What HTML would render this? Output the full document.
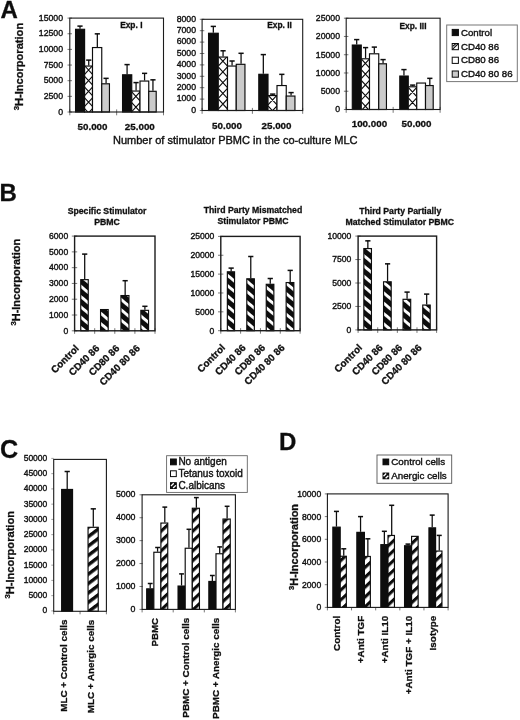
<!DOCTYPE html>
<html lang="en"><head><meta charset="utf-8"><title>Figure</title>
<style>html,body{margin:0;padding:0;background:#fff;}svg{display:block;}text{font-family:'Liberation Sans', Arial, Helvetica, sans-serif;}</style></head><body>
<svg width="520" height="720" viewBox="0 0 520 720">
<defs>
<pattern id="pbs" width="7.9" height="7.9" patternUnits="userSpaceOnUse" patternTransform="rotate(40)"><rect width="7.9" height="7.9" fill="#0a0a0a"/><rect width="7.9" height="2.9" fill="#fff"/></pattern>
<pattern id="pfs" width="7.5" height="7.5" patternUnits="userSpaceOnUse" patternTransform="rotate(-37)"><rect width="7.5" height="7.5" fill="#fff"/><rect width="7.5" height="3.4" fill="#0a0a0a"/></pattern>
<pattern id="pfsd" width="7.2" height="7.2" patternUnits="userSpaceOnUse" patternTransform="rotate(-43)"><rect width="7.2" height="7.2" fill="#fff"/><rect width="7.2" height="3.1" fill="#0a0a0a"/></pattern>
<filter id="soft" x="0" y="0" width="520" height="720" filterUnits="userSpaceOnUse"><feGaussianBlur stdDeviation="0.42"/></filter>
</defs>
<rect width="520" height="720" fill="#fff"/>
<g filter="url(#soft)">
<rect width="520" height="720" fill="#fff"/>
<text x="0.5" y="18.2" font-size="24" font-weight="bold" stroke="#111" stroke-width="0.3" text-anchor="start" fill="#111">A</text>
<text x="-0.4" y="200.5" font-size="24" font-weight="bold" stroke="#111" stroke-width="0.3" text-anchor="start" fill="#111">B</text>
<text x="0.1" y="457.7" font-size="25.2" font-weight="bold" stroke="#111" stroke-width="0.3" text-anchor="start" fill="#111">C</text>
<text x="279" y="450.2" font-size="24" font-weight="bold" stroke="#111" stroke-width="0.3" text-anchor="start" fill="#111">D</text>
<text x="23.1" y="66.6" font-size="11.1" font-weight="bold" stroke="#111" stroke-width="0.3" text-anchor="middle" transform="rotate(-90 23.1 66.6)" fill="#111"><tspan font-size="7.77" dy="-4.22">3</tspan><tspan dy="4.22">H-Incorporation</tspan></text>
<line x1="67.5" y1="18.1" x2="72" y2="18.1" stroke="#555" stroke-width="0.8"/>
<text x="63" y="20.83" font-size="8.7" stroke="#111" stroke-width="0.38" text-anchor="end" fill="#111">15000</text>
<line x1="67.5" y1="33.75" x2="72" y2="33.75" stroke="#555" stroke-width="0.8"/>
<text x="63" y="36.48" font-size="8.7" stroke="#111" stroke-width="0.38" text-anchor="end" fill="#111">12500</text>
<line x1="67.5" y1="49.4" x2="72" y2="49.4" stroke="#555" stroke-width="0.8"/>
<text x="63" y="52.13" font-size="8.7" stroke="#111" stroke-width="0.38" text-anchor="end" fill="#111">10000</text>
<line x1="67.5" y1="65.05" x2="72" y2="65.05" stroke="#555" stroke-width="0.8"/>
<text x="63" y="67.78" font-size="8.7" stroke="#111" stroke-width="0.38" text-anchor="end" fill="#111">7500</text>
<line x1="67.5" y1="80.7" x2="72" y2="80.7" stroke="#555" stroke-width="0.8"/>
<text x="63" y="83.43" font-size="8.7" stroke="#111" stroke-width="0.38" text-anchor="end" fill="#111">5000</text>
<line x1="67.5" y1="96.35" x2="72" y2="96.35" stroke="#555" stroke-width="0.8"/>
<text x="63" y="99.08" font-size="8.7" stroke="#111" stroke-width="0.38" text-anchor="end" fill="#111">2500</text>
<line x1="67.5" y1="112" x2="72" y2="112" stroke="#555" stroke-width="0.8"/>
<text x="63" y="114.73" font-size="8.7" stroke="#111" stroke-width="0.38" text-anchor="end" fill="#111">0</text>
<line x1="69.8" y1="109.4" x2="69.8" y2="115.3" stroke="#555" stroke-width="0.8"/>
<line x1="116.65" y1="109.4" x2="116.65" y2="115.3" stroke="#555" stroke-width="0.8"/>
<line x1="163.5" y1="109.4" x2="163.5" y2="115.3" stroke="#555" stroke-width="0.8"/>
<rect x="75.55" y="29.3" width="9.05" height="82.7" fill="#0a0a0a" stroke="#0a0a0a" stroke-width="1.15"/>
<line x1="80" y1="26" x2="80" y2="28.75" stroke="#0a0a0a" stroke-width="1.25"/>
<line x1="77.4" y1="26.1" x2="82.6" y2="26.1" stroke="#0a0a0a" stroke-width="1.5"/>
<clipPath id="cb1"><rect x="84.6" y="66.05" width="7.9" height="45.95"/></clipPath>
<rect x="84.6" y="66.05" width="7.9" height="45.95" fill="#fff" stroke="#0a0a0a" stroke-width="1.15"/>
<path d="M84.6 65.73L92.5 74.27M84.6 74.27L92.5 65.73M84.6 76.43L92.5 84.97M84.6 84.97L92.5 76.43M84.6 87.13L92.5 95.67M84.6 95.67L92.5 87.13M84.6 97.83L92.5 106.37M84.6 106.37L92.5 97.83M84.6 108.53L92.5 117.07M84.6 117.07L92.5 108.53M84.6 119.23L92.5 127.77M84.6 127.77L92.5 119.23M84.6 44.33L92.5 52.87M84.6 52.87L92.5 44.33" stroke="#111" stroke-width="1.15" fill="none" clip-path="url(#cb1)"/>
<line x1="88.75" y1="60" x2="88.75" y2="65.5" stroke="#0a0a0a" stroke-width="1.25"/>
<line x1="86.15" y1="60.1" x2="91.35" y2="60.1" stroke="#0a0a0a" stroke-width="1.5"/>
<rect x="92.5" y="47.55" width="9.25" height="64.45" fill="#fff" stroke="#0a0a0a" stroke-width="1.15"/>
<line x1="97.33" y1="33.75" x2="97.33" y2="47" stroke="#0a0a0a" stroke-width="1.25"/>
<line x1="94.73" y1="33.85" x2="99.92" y2="33.85" stroke="#0a0a0a" stroke-width="1.5"/>
<rect x="101.75" y="83.8" width="7.7" height="28.2" fill="#cbcbcb" stroke="#0a0a0a" stroke-width="1.15"/>
<line x1="106.08" y1="78.25" x2="106.08" y2="83.25" stroke="#0a0a0a" stroke-width="1.25"/>
<line x1="103.48" y1="78.35" x2="108.67" y2="78.35" stroke="#0a0a0a" stroke-width="1.5"/>
<rect x="122.55" y="74.8" width="9.2" height="37.2" fill="#0a0a0a" stroke="#0a0a0a" stroke-width="1.15"/>
<line x1="127.08" y1="64.5" x2="127.08" y2="74.25" stroke="#0a0a0a" stroke-width="1.25"/>
<line x1="124.48" y1="64.6" x2="129.68" y2="64.6" stroke="#0a0a0a" stroke-width="1.5"/>
<clipPath id="cb2"><rect x="131.75" y="91.05" width="8.25" height="20.95"/></clipPath>
<rect x="131.75" y="91.05" width="8.25" height="20.95" fill="#fff" stroke="#0a0a0a" stroke-width="1.15"/>
<path d="M131.75 91.95L140 100.86M131.75 100.86L140 91.95M131.75 102.65L140 111.56M131.75 111.56L140 102.65M131.75 113.35L140 122.26M131.75 122.26L140 113.35M131.75 70.55L140 79.45M131.75 79.45L140 70.55" stroke="#111" stroke-width="1.15" fill="none" clip-path="url(#cb2)"/>
<line x1="136.07" y1="82.5" x2="136.07" y2="90.5" stroke="#0a0a0a" stroke-width="1.25"/>
<line x1="133.47" y1="82.6" x2="138.67" y2="82.6" stroke="#0a0a0a" stroke-width="1.5"/>
<rect x="140" y="81.05" width="8.75" height="30.95" fill="#fff" stroke="#0a0a0a" stroke-width="1.15"/>
<line x1="144.57" y1="73.25" x2="144.57" y2="80.5" stroke="#0a0a0a" stroke-width="1.25"/>
<line x1="141.97" y1="73.35" x2="147.17" y2="73.35" stroke="#0a0a0a" stroke-width="1.5"/>
<rect x="148.75" y="91.3" width="7.45" height="20.7" fill="#cbcbcb" stroke="#0a0a0a" stroke-width="1.15"/>
<line x1="152.95" y1="79.75" x2="152.95" y2="90.75" stroke="#0a0a0a" stroke-width="1.25"/>
<line x1="150.35" y1="79.85" x2="155.55" y2="79.85" stroke="#0a0a0a" stroke-width="1.5"/>
<rect x="69.8" y="18.1" width="93.7" height="93.9" fill="none" stroke="#1a1a1a" stroke-width="1.1"/>
<text x="131.3" y="27.8" font-size="8.4" font-weight="bold" stroke="#111" stroke-width="0.3" text-anchor="middle" fill="#111">Exp. I</text>
<text x="92.5" y="130.2" font-size="9.8" font-weight="bold" stroke="#111" stroke-width="0.3" text-anchor="middle" fill="#111">50.000</text>
<text x="139.8" y="130.2" font-size="9.8" font-weight="bold" stroke="#111" stroke-width="0.3" text-anchor="middle" fill="#111">25.000</text>
<line x1="199.8" y1="19.3" x2="204.3" y2="19.3" stroke="#555" stroke-width="0.8"/>
<text x="196" y="21.63" font-size="8.7" stroke="#111" stroke-width="0.38" text-anchor="end" fill="#111">8000</text>
<line x1="199.8" y1="30.7" x2="204.3" y2="30.7" stroke="#555" stroke-width="0.8"/>
<text x="196" y="33.03" font-size="8.7" stroke="#111" stroke-width="0.38" text-anchor="end" fill="#111">7000</text>
<line x1="199.8" y1="42.1" x2="204.3" y2="42.1" stroke="#555" stroke-width="0.8"/>
<text x="196" y="44.43" font-size="8.7" stroke="#111" stroke-width="0.38" text-anchor="end" fill="#111">6000</text>
<line x1="199.8" y1="53.5" x2="204.3" y2="53.5" stroke="#555" stroke-width="0.8"/>
<text x="196" y="55.83" font-size="8.7" stroke="#111" stroke-width="0.38" text-anchor="end" fill="#111">5000</text>
<line x1="199.8" y1="64.9" x2="204.3" y2="64.9" stroke="#555" stroke-width="0.8"/>
<text x="196" y="67.23" font-size="8.7" stroke="#111" stroke-width="0.38" text-anchor="end" fill="#111">4000</text>
<line x1="199.8" y1="76.3" x2="204.3" y2="76.3" stroke="#555" stroke-width="0.8"/>
<text x="196" y="78.63" font-size="8.7" stroke="#111" stroke-width="0.38" text-anchor="end" fill="#111">3000</text>
<line x1="199.8" y1="87.7" x2="204.3" y2="87.7" stroke="#555" stroke-width="0.8"/>
<text x="196" y="90.03" font-size="8.7" stroke="#111" stroke-width="0.38" text-anchor="end" fill="#111">2000</text>
<line x1="199.8" y1="99.1" x2="204.3" y2="99.1" stroke="#555" stroke-width="0.8"/>
<text x="196" y="101.43" font-size="8.7" stroke="#111" stroke-width="0.38" text-anchor="end" fill="#111">1000</text>
<line x1="199.8" y1="110.5" x2="204.3" y2="110.5" stroke="#555" stroke-width="0.8"/>
<text x="196" y="112.83" font-size="8.7" stroke="#111" stroke-width="0.38" text-anchor="end" fill="#111">0</text>
<line x1="202.1" y1="107.9" x2="202.1" y2="113.8" stroke="#555" stroke-width="0.8"/>
<line x1="252.4" y1="107.9" x2="252.4" y2="113.8" stroke="#555" stroke-width="0.8"/>
<line x1="302.7" y1="107.9" x2="302.7" y2="113.8" stroke="#555" stroke-width="0.8"/>
<rect x="208.55" y="33.25" width="9.7" height="77.25" fill="#0a0a0a" stroke="#0a0a0a" stroke-width="1.15"/>
<line x1="213.32" y1="26.3" x2="213.32" y2="32.7" stroke="#0a0a0a" stroke-width="1.25"/>
<line x1="210.72" y1="26.4" x2="215.92" y2="26.4" stroke="#0a0a0a" stroke-width="1.5"/>
<clipPath id="cb3"><rect x="218.25" y="57.05" width="9.25" height="53.45"/></clipPath>
<rect x="218.25" y="57.05" width="9.25" height="53.45" fill="#fff" stroke="#0a0a0a" stroke-width="1.15"/>
<path d="M218.25 56.21L227.5 66.2M218.25 66.2L227.5 56.21M218.25 66.91L227.5 76.9M218.25 76.9L227.5 66.91M218.25 77.61L227.5 87.6M218.25 87.6L227.5 77.61M218.25 88.31L227.5 98.3M218.25 98.3L227.5 88.31M218.25 99.01L227.5 109M218.25 109L227.5 99.01M218.25 109.71L227.5 119.7M218.25 119.7L227.5 109.71M218.25 120.41L227.5 130.4M218.25 130.4L227.5 120.41M218.25 34.8L227.5 44.79M218.25 44.79L227.5 34.8" stroke="#111" stroke-width="1.15" fill="none" clip-path="url(#cb3)"/>
<line x1="223.07" y1="50.7" x2="223.07" y2="56.5" stroke="#0a0a0a" stroke-width="1.25"/>
<line x1="220.47" y1="50.8" x2="225.67" y2="50.8" stroke="#0a0a0a" stroke-width="1.5"/>
<rect x="227.5" y="66.05" width="8.75" height="44.45" fill="#fff" stroke="#0a0a0a" stroke-width="1.15"/>
<line x1="232.07" y1="60.9" x2="232.07" y2="65.5" stroke="#0a0a0a" stroke-width="1.25"/>
<line x1="229.47" y1="61" x2="234.67" y2="61" stroke="#0a0a0a" stroke-width="1.5"/>
<rect x="236.25" y="64.3" width="8.7" height="46.2" fill="#cbcbcb" stroke="#0a0a0a" stroke-width="1.15"/>
<line x1="241.07" y1="53.2" x2="241.07" y2="63.75" stroke="#0a0a0a" stroke-width="1.25"/>
<line x1="238.47" y1="53.3" x2="243.67" y2="53.3" stroke="#0a0a0a" stroke-width="1.5"/>
<rect x="258.8" y="74.3" width="9.2" height="36.2" fill="#0a0a0a" stroke="#0a0a0a" stroke-width="1.15"/>
<line x1="263.32" y1="54.5" x2="263.32" y2="73.75" stroke="#0a0a0a" stroke-width="1.25"/>
<line x1="260.72" y1="54.6" x2="265.93" y2="54.6" stroke="#0a0a0a" stroke-width="1.5"/>
<clipPath id="cb4"><rect x="268" y="95.55" width="9" height="14.95"/></clipPath>
<rect x="268" y="95.55" width="9" height="14.95" fill="#fff" stroke="#0a0a0a" stroke-width="1.15"/>
<path d="M268 95.14L277 104.86M268 104.86L277 95.14M268 105.84L277 115.56M268 115.56L277 105.84M268 116.54L277 126.26M268 126.26L277 116.54M268 73.74L277 83.46M268 83.46L277 73.74" stroke="#111" stroke-width="1.15" fill="none" clip-path="url(#cb4)"/>
<line x1="272.7" y1="94" x2="272.7" y2="95" stroke="#0a0a0a" stroke-width="1.25"/>
<line x1="270.1" y1="94.1" x2="275.3" y2="94.1" stroke="#0a0a0a" stroke-width="1.5"/>
<rect x="277" y="85.55" width="9.25" height="24.95" fill="#fff" stroke="#0a0a0a" stroke-width="1.15"/>
<line x1="281.82" y1="74.25" x2="281.82" y2="85" stroke="#0a0a0a" stroke-width="1.25"/>
<line x1="279.22" y1="74.35" x2="284.43" y2="74.35" stroke="#0a0a0a" stroke-width="1.5"/>
<rect x="286.25" y="96.05" width="8.7" height="14.45" fill="#cbcbcb" stroke="#0a0a0a" stroke-width="1.15"/>
<line x1="291.07" y1="92.5" x2="291.07" y2="95.5" stroke="#0a0a0a" stroke-width="1.25"/>
<line x1="288.47" y1="92.6" x2="293.68" y2="92.6" stroke="#0a0a0a" stroke-width="1.5"/>
<rect x="202.1" y="19.3" width="100.6" height="91.2" fill="none" stroke="#1a1a1a" stroke-width="1.1"/>
<text x="279.5" y="28.2" font-size="8.4" font-weight="bold" stroke="#111" stroke-width="0.3" text-anchor="middle" fill="#111">Exp. II</text>
<text x="227" y="129" font-size="9.8" font-weight="bold" stroke="#111" stroke-width="0.3" text-anchor="middle" fill="#111">50.000</text>
<text x="276.5" y="128.8" font-size="9.8" font-weight="bold" stroke="#111" stroke-width="0.3" text-anchor="middle" fill="#111">25.000</text>
<line x1="343.9" y1="18.2" x2="348.4" y2="18.2" stroke="#555" stroke-width="0.8"/>
<text x="340" y="21.13" font-size="8.7" stroke="#111" stroke-width="0.38" text-anchor="end" fill="#111">25000</text>
<line x1="343.9" y1="36.46" x2="348.4" y2="36.46" stroke="#555" stroke-width="0.8"/>
<text x="340" y="39.39" font-size="8.7" stroke="#111" stroke-width="0.38" text-anchor="end" fill="#111">20000</text>
<line x1="343.9" y1="54.72" x2="348.4" y2="54.72" stroke="#555" stroke-width="0.8"/>
<text x="340" y="57.65" font-size="8.7" stroke="#111" stroke-width="0.38" text-anchor="end" fill="#111">15000</text>
<line x1="343.9" y1="72.98" x2="348.4" y2="72.98" stroke="#555" stroke-width="0.8"/>
<text x="340" y="75.91" font-size="8.7" stroke="#111" stroke-width="0.38" text-anchor="end" fill="#111">10000</text>
<line x1="343.9" y1="91.24" x2="348.4" y2="91.24" stroke="#555" stroke-width="0.8"/>
<text x="340" y="94.17" font-size="8.7" stroke="#111" stroke-width="0.38" text-anchor="end" fill="#111">5000</text>
<line x1="343.9" y1="109.5" x2="348.4" y2="109.5" stroke="#555" stroke-width="0.8"/>
<text x="340" y="112.43" font-size="8.7" stroke="#111" stroke-width="0.38" text-anchor="end" fill="#111">0</text>
<line x1="346.2" y1="106.9" x2="346.2" y2="112.8" stroke="#555" stroke-width="0.8"/>
<line x1="393.15" y1="106.9" x2="393.15" y2="112.8" stroke="#555" stroke-width="0.8"/>
<line x1="440.1" y1="106.9" x2="440.1" y2="112.8" stroke="#555" stroke-width="0.8"/>
<rect x="352.3" y="45.05" width="8.95" height="64.45" fill="#0a0a0a" stroke="#0a0a0a" stroke-width="1.15"/>
<line x1="356.7" y1="39.5" x2="356.7" y2="44.5" stroke="#0a0a0a" stroke-width="1.25"/>
<line x1="354.1" y1="39.6" x2="359.3" y2="39.6" stroke="#0a0a0a" stroke-width="1.5"/>
<clipPath id="cb5"><rect x="361.25" y="58.8" width="8.25" height="50.7"/></clipPath>
<rect x="361.25" y="58.8" width="8.25" height="50.7" fill="#fff" stroke="#0a0a0a" stroke-width="1.15"/>
<path d="M361.25 58.95L369.5 67.86M361.25 67.86L369.5 58.95M361.25 69.65L369.5 78.56M361.25 78.56L369.5 69.65M361.25 80.35L369.5 89.26M361.25 89.26L369.5 80.35M361.25 91.05L369.5 99.96M361.25 99.96L369.5 91.05M361.25 101.75L369.5 110.66M361.25 110.66L369.5 101.75M361.25 112.45L369.5 121.36M361.25 121.36L369.5 112.45M361.25 37.55L369.5 46.45M361.25 46.45L369.5 37.55" stroke="#111" stroke-width="1.15" fill="none" clip-path="url(#cb5)"/>
<line x1="365.57" y1="47.5" x2="365.57" y2="58.25" stroke="#0a0a0a" stroke-width="1.25"/>
<line x1="362.97" y1="47.6" x2="368.18" y2="47.6" stroke="#0a0a0a" stroke-width="1.5"/>
<rect x="369.5" y="53.8" width="9.25" height="55.7" fill="#fff" stroke="#0a0a0a" stroke-width="1.15"/>
<line x1="374.32" y1="47" x2="374.32" y2="53.25" stroke="#0a0a0a" stroke-width="1.25"/>
<line x1="371.72" y1="47.1" x2="376.93" y2="47.1" stroke="#0a0a0a" stroke-width="1.5"/>
<rect x="378.75" y="63.8" width="7.7" height="45.7" fill="#cbcbcb" stroke="#0a0a0a" stroke-width="1.15"/>
<line x1="383.07" y1="59.5" x2="383.07" y2="63.25" stroke="#0a0a0a" stroke-width="1.25"/>
<line x1="380.47" y1="59.6" x2="385.68" y2="59.6" stroke="#0a0a0a" stroke-width="1.5"/>
<rect x="399.8" y="76.05" width="8.45" height="33.45" fill="#0a0a0a" stroke="#0a0a0a" stroke-width="1.15"/>
<line x1="403.95" y1="69.5" x2="403.95" y2="75.5" stroke="#0a0a0a" stroke-width="1.25"/>
<line x1="401.35" y1="69.6" x2="406.55" y2="69.6" stroke="#0a0a0a" stroke-width="1.5"/>
<clipPath id="cb6"><rect x="408.25" y="86.8" width="8.5" height="22.7"/></clipPath>
<rect x="408.25" y="86.8" width="8.5" height="22.7" fill="#fff" stroke="#0a0a0a" stroke-width="1.15"/>
<path d="M408.25 87.31L416.75 96.49M408.25 96.49L416.75 87.31M408.25 98.01L416.75 107.19M408.25 107.19L416.75 98.01M408.25 108.71L416.75 117.89M408.25 117.89L416.75 108.71M408.25 119.41L416.75 128.59M408.25 128.59L416.75 119.41M408.25 65.91L416.75 75.09M408.25 75.09L416.75 65.91" stroke="#111" stroke-width="1.15" fill="none" clip-path="url(#cb6)"/>
<line x1="412.7" y1="85" x2="412.7" y2="86.25" stroke="#0a0a0a" stroke-width="1.25"/>
<line x1="410.1" y1="85.1" x2="415.3" y2="85.1" stroke="#0a0a0a" stroke-width="1.5"/>
<rect x="416.75" y="83.05" width="8.75" height="26.45" fill="#fff" stroke="#0a0a0a" stroke-width="1.15"/>
<rect x="425.5" y="85.55" width="7.7" height="23.95" fill="#cbcbcb" stroke="#0a0a0a" stroke-width="1.15"/>
<line x1="429.82" y1="78.25" x2="429.82" y2="85" stroke="#0a0a0a" stroke-width="1.25"/>
<line x1="427.22" y1="78.35" x2="432.43" y2="78.35" stroke="#0a0a0a" stroke-width="1.5"/>
<rect x="346.2" y="18.2" width="93.9" height="91.3" fill="none" stroke="#1a1a1a" stroke-width="1.1"/>
<text x="413" y="28.8" font-size="8.4" font-weight="bold" stroke="#111" stroke-width="0.3" text-anchor="middle" fill="#111">Exp. III</text>
<text x="369.4" y="126.5" font-size="9.8" font-weight="bold" stroke="#111" stroke-width="0.3" text-anchor="middle" fill="#111">100.000</text>
<text x="416.5" y="126.5" font-size="9.8" font-weight="bold" stroke="#111" stroke-width="0.3" text-anchor="middle" fill="#111">50.000</text>
<text x="113" y="143.6" font-size="11" stroke="#111" stroke-width="0.38" text-anchor="start" fill="#111">Number of stimulator PBMC in the co-culture MLC</text>
<rect x="446.7" y="25" width="70.6" height="56.6" fill="#fff" stroke="#777" stroke-width="1"/>
<rect x="452.2" y="29.4" width="6.2" height="6.2" fill="#0a0a0a" stroke="#0a0a0a" stroke-width="1"/>
<text x="460.9" y="35.5" font-size="9.7" stroke="#111" stroke-width="0.38" text-anchor="start" fill="#111">Control</text>
<rect x="452.2" y="43.5" width="6.2" height="6.2" fill="#fff" stroke="#0a0a0a" stroke-width="1"/>
<path d="M452.7 49.2L457.9 44M452.7 46.3L455.6 44" stroke="#111" stroke-width="1.1"/>
<text x="460.9" y="49.6" font-size="9.7" stroke="#111" stroke-width="0.38" text-anchor="start" fill="#111">CD40 86</text>
<rect x="452.2" y="57.2" width="6.2" height="6.2" fill="#fff" stroke="#0a0a0a" stroke-width="1"/>
<text x="460.9" y="63.3" font-size="9.7" stroke="#111" stroke-width="0.38" text-anchor="start" fill="#111">CD80 86</text>
<rect x="452.2" y="71" width="6.2" height="6.2" fill="#cbcbcb" stroke="#0a0a0a" stroke-width="1"/>
<text x="460.9" y="77.1" font-size="9.7" stroke="#111" stroke-width="0.38" text-anchor="start" fill="#111">CD40 80 86</text>
<text x="20.3" y="282.2" font-size="11" font-weight="bold" stroke="#111" stroke-width="0.3" text-anchor="middle" transform="rotate(-90 20.3 282.2)" fill="#111"><tspan font-size="7.7" dy="-4.18">3</tspan><tspan dy="4.18">H-Incorporation</tspan></text>
<line x1="71.8" y1="236.1" x2="77.2" y2="236.1" stroke="#555" stroke-width="0.8"/>
<text x="68.2" y="238.9" font-size="8.6" stroke="#111" stroke-width="0.38" text-anchor="end" fill="#111">6000</text>
<line x1="71.8" y1="251.88" x2="77.2" y2="251.88" stroke="#555" stroke-width="0.8"/>
<text x="68.2" y="254.68" font-size="8.6" stroke="#111" stroke-width="0.38" text-anchor="end" fill="#111">5000</text>
<line x1="71.8" y1="267.67" x2="77.2" y2="267.67" stroke="#555" stroke-width="0.8"/>
<text x="68.2" y="270.46" font-size="8.6" stroke="#111" stroke-width="0.38" text-anchor="end" fill="#111">4000</text>
<line x1="71.8" y1="283.45" x2="77.2" y2="283.45" stroke="#555" stroke-width="0.8"/>
<text x="68.2" y="286.25" font-size="8.6" stroke="#111" stroke-width="0.38" text-anchor="end" fill="#111">3000</text>
<line x1="71.8" y1="299.23" x2="77.2" y2="299.23" stroke="#555" stroke-width="0.8"/>
<text x="68.2" y="302.03" font-size="8.6" stroke="#111" stroke-width="0.38" text-anchor="end" fill="#111">2000</text>
<line x1="71.8" y1="315.02" x2="77.2" y2="315.02" stroke="#555" stroke-width="0.8"/>
<text x="68.2" y="317.81" font-size="8.6" stroke="#111" stroke-width="0.38" text-anchor="end" fill="#111">1000</text>
<line x1="71.8" y1="330.8" x2="77.2" y2="330.8" stroke="#555" stroke-width="0.8"/>
<text x="68.2" y="333.6" font-size="8.6" stroke="#111" stroke-width="0.38" text-anchor="end" fill="#111">0</text>
<line x1="74.6" y1="328.2" x2="74.6" y2="333.8" stroke="#555" stroke-width="0.8"/>
<line x1="94.7" y1="328.2" x2="94.7" y2="333.8" stroke="#555" stroke-width="0.8"/>
<line x1="114.8" y1="328.2" x2="114.8" y2="333.8" stroke="#555" stroke-width="0.8"/>
<line x1="134.9" y1="328.2" x2="134.9" y2="333.8" stroke="#555" stroke-width="0.8"/>
<line x1="155" y1="328.2" x2="155" y2="333.8" stroke="#555" stroke-width="0.8"/>
<rect x="80.75" y="279.65" width="7.5" height="51.15" fill="url(#pbs)" stroke="#0a0a0a" stroke-width="1.15"/>
<line x1="84.7" y1="254" x2="84.7" y2="279.1" stroke="#0a0a0a" stroke-width="1.25"/>
<line x1="82.1" y1="254.1" x2="87.3" y2="254.1" stroke="#0a0a0a" stroke-width="1.5"/>
<rect x="100.55" y="309.55" width="7.65" height="21.25" fill="url(#pbs)" stroke="#0a0a0a" stroke-width="1.15"/>
<rect x="120.95" y="295.55" width="8" height="35.25" fill="url(#pbs)" stroke="#0a0a0a" stroke-width="1.15"/>
<line x1="125.15" y1="280.6" x2="125.15" y2="295" stroke="#0a0a0a" stroke-width="1.25"/>
<line x1="122.55" y1="280.7" x2="127.75" y2="280.7" stroke="#0a0a0a" stroke-width="1.5"/>
<rect x="140.85" y="310.35" width="7.7" height="20.45" fill="url(#pbs)" stroke="#0a0a0a" stroke-width="1.15"/>
<line x1="144.9" y1="306.2" x2="144.9" y2="309.8" stroke="#0a0a0a" stroke-width="1.25"/>
<line x1="142.3" y1="306.3" x2="147.5" y2="306.3" stroke="#0a0a0a" stroke-width="1.5"/>
<rect x="74.6" y="236.1" width="80.4" height="94.7" fill="none" stroke="#1a1a1a" stroke-width="1.4"/>
<text x="79.55" y="349" font-size="9.8" font-weight="bold" stroke="#111" stroke-width="0.3" text-anchor="end" transform="rotate(-45 79.55 349)" fill="#111">Control</text>
<text x="100.05" y="349" font-size="9.8" font-weight="bold" stroke="#111" stroke-width="0.3" text-anchor="end" transform="rotate(-45 100.05 349)" fill="#111">CD40 86</text>
<text x="120.05" y="349" font-size="9.8" font-weight="bold" stroke="#111" stroke-width="0.3" text-anchor="end" transform="rotate(-45 120.05 349)" fill="#111">CD80 86</text>
<text x="140.5" y="349" font-size="9.8" font-weight="bold" stroke="#111" stroke-width="0.3" text-anchor="end" transform="rotate(-45 140.5 349)" fill="#111">CD40 80 86</text>
<text x="107" y="213.7" font-size="8.7" font-weight="bold" stroke="#111" stroke-width="0.3" text-anchor="middle" fill="#111">Specific Stimulator</text>
<text x="107" y="224.9" font-size="8.7" font-weight="bold" stroke="#111" stroke-width="0.3" text-anchor="middle" fill="#111">PBMC</text>
<line x1="218" y1="236.4" x2="223.4" y2="236.4" stroke="#555" stroke-width="0.8"/>
<text x="214.4" y="239.2" font-size="8.6" stroke="#111" stroke-width="0.38" text-anchor="end" fill="#111">25000</text>
<line x1="218" y1="255.26" x2="223.4" y2="255.26" stroke="#555" stroke-width="0.8"/>
<text x="214.4" y="258.06" font-size="8.6" stroke="#111" stroke-width="0.38" text-anchor="end" fill="#111">20000</text>
<line x1="218" y1="274.12" x2="223.4" y2="274.12" stroke="#555" stroke-width="0.8"/>
<text x="214.4" y="276.92" font-size="8.6" stroke="#111" stroke-width="0.38" text-anchor="end" fill="#111">15000</text>
<line x1="218" y1="292.98" x2="223.4" y2="292.98" stroke="#555" stroke-width="0.8"/>
<text x="214.4" y="295.78" font-size="8.6" stroke="#111" stroke-width="0.38" text-anchor="end" fill="#111">10000</text>
<line x1="218" y1="311.84" x2="223.4" y2="311.84" stroke="#555" stroke-width="0.8"/>
<text x="214.4" y="314.64" font-size="8.6" stroke="#111" stroke-width="0.38" text-anchor="end" fill="#111">5000</text>
<line x1="218" y1="330.7" x2="223.4" y2="330.7" stroke="#555" stroke-width="0.8"/>
<text x="214.4" y="333.5" font-size="8.6" stroke="#111" stroke-width="0.38" text-anchor="end" fill="#111">0</text>
<line x1="220.8" y1="328.1" x2="220.8" y2="333.7" stroke="#555" stroke-width="0.8"/>
<line x1="240.62" y1="328.1" x2="240.62" y2="333.7" stroke="#555" stroke-width="0.8"/>
<line x1="260.45" y1="328.1" x2="260.45" y2="333.7" stroke="#555" stroke-width="0.8"/>
<line x1="280.28" y1="328.1" x2="280.28" y2="333.7" stroke="#555" stroke-width="0.8"/>
<line x1="300.1" y1="328.1" x2="300.1" y2="333.7" stroke="#555" stroke-width="0.8"/>
<rect x="227.35" y="271.8" width="7.2" height="58.9" fill="url(#pbs)" stroke="#0a0a0a" stroke-width="1.15"/>
<line x1="231.15" y1="268" x2="231.15" y2="271.25" stroke="#0a0a0a" stroke-width="1.25"/>
<line x1="228.55" y1="268.1" x2="233.75" y2="268.1" stroke="#0a0a0a" stroke-width="1.5"/>
<rect x="246.8" y="278.8" width="7.55" height="51.9" fill="url(#pbs)" stroke="#0a0a0a" stroke-width="1.15"/>
<line x1="250.77" y1="256.4" x2="250.77" y2="278.25" stroke="#0a0a0a" stroke-width="1.25"/>
<line x1="248.17" y1="256.5" x2="253.37" y2="256.5" stroke="#0a0a0a" stroke-width="1.5"/>
<rect x="266.25" y="284.3" width="7.6" height="46.4" fill="url(#pbs)" stroke="#0a0a0a" stroke-width="1.15"/>
<line x1="270.25" y1="278.4" x2="270.25" y2="283.75" stroke="#0a0a0a" stroke-width="1.25"/>
<line x1="267.65" y1="278.5" x2="272.85" y2="278.5" stroke="#0a0a0a" stroke-width="1.5"/>
<rect x="286.15" y="282.55" width="7.7" height="48.15" fill="url(#pbs)" stroke="#0a0a0a" stroke-width="1.15"/>
<line x1="290.2" y1="270.3" x2="290.2" y2="282" stroke="#0a0a0a" stroke-width="1.25"/>
<line x1="287.6" y1="270.4" x2="292.8" y2="270.4" stroke="#0a0a0a" stroke-width="1.5"/>
<rect x="220.8" y="236.4" width="79.3" height="94.3" fill="none" stroke="#1a1a1a" stroke-width="1.4"/>
<text x="225.8" y="348.4" font-size="9.8" font-weight="bold" stroke="#111" stroke-width="0.3" text-anchor="end" transform="rotate(-45 225.8 348.4)" fill="#111">Control</text>
<text x="246.3" y="348.4" font-size="9.8" font-weight="bold" stroke="#111" stroke-width="0.3" text-anchor="end" transform="rotate(-45 246.3 348.4)" fill="#111">CD40 86</text>
<text x="265.8" y="348.4" font-size="9.8" font-weight="bold" stroke="#111" stroke-width="0.3" text-anchor="end" transform="rotate(-45 265.8 348.4)" fill="#111">CD80 86</text>
<text x="285.3" y="348.4" font-size="9.8" font-weight="bold" stroke="#111" stroke-width="0.3" text-anchor="end" transform="rotate(-45 285.3 348.4)" fill="#111">CD40 80 86</text>
<text x="253" y="212.8" font-size="8.7" font-weight="bold" stroke="#111" stroke-width="0.3" text-anchor="middle" fill="#111">Third Party Mismatched</text>
<text x="253" y="224" font-size="8.7" font-weight="bold" stroke="#111" stroke-width="0.3" text-anchor="middle" fill="#111">Stimulator PBMC</text>
<line x1="355.3" y1="236.1" x2="360.7" y2="236.1" stroke="#555" stroke-width="0.8"/>
<text x="351.4" y="238.9" font-size="8.6" stroke="#111" stroke-width="0.38" text-anchor="end" fill="#111">10000</text>
<line x1="355.3" y1="259.55" x2="360.7" y2="259.55" stroke="#555" stroke-width="0.8"/>
<text x="351.4" y="262.35" font-size="8.6" stroke="#111" stroke-width="0.38" text-anchor="end" fill="#111">7500</text>
<line x1="355.3" y1="283" x2="360.7" y2="283" stroke="#555" stroke-width="0.8"/>
<text x="351.4" y="285.8" font-size="8.6" stroke="#111" stroke-width="0.38" text-anchor="end" fill="#111">5000</text>
<line x1="355.3" y1="306.45" x2="360.7" y2="306.45" stroke="#555" stroke-width="0.8"/>
<text x="351.4" y="309.25" font-size="8.6" stroke="#111" stroke-width="0.38" text-anchor="end" fill="#111">2500</text>
<line x1="355.3" y1="329.9" x2="360.7" y2="329.9" stroke="#555" stroke-width="0.8"/>
<text x="351.4" y="332.7" font-size="8.6" stroke="#111" stroke-width="0.38" text-anchor="end" fill="#111">0</text>
<line x1="358.1" y1="327.3" x2="358.1" y2="332.9" stroke="#555" stroke-width="0.8"/>
<line x1="377.73" y1="327.3" x2="377.73" y2="332.9" stroke="#555" stroke-width="0.8"/>
<line x1="397.35" y1="327.3" x2="397.35" y2="332.9" stroke="#555" stroke-width="0.8"/>
<line x1="416.98" y1="327.3" x2="416.98" y2="332.9" stroke="#555" stroke-width="0.8"/>
<line x1="436.6" y1="327.3" x2="436.6" y2="332.9" stroke="#555" stroke-width="0.8"/>
<rect x="363.85" y="248.55" width="7.6" height="81.35" fill="url(#pbs)" stroke="#0a0a0a" stroke-width="1.15"/>
<line x1="367.85" y1="240.75" x2="367.85" y2="248" stroke="#0a0a0a" stroke-width="1.25"/>
<line x1="365.25" y1="240.85" x2="370.45" y2="240.85" stroke="#0a0a0a" stroke-width="1.5"/>
<rect x="383.55" y="281.8" width="7.65" height="48.1" fill="url(#pbs)" stroke="#0a0a0a" stroke-width="1.15"/>
<line x1="387.57" y1="263.75" x2="387.57" y2="281.25" stroke="#0a0a0a" stroke-width="1.25"/>
<line x1="384.97" y1="263.85" x2="390.18" y2="263.85" stroke="#0a0a0a" stroke-width="1.5"/>
<rect x="403.05" y="299.3" width="7.65" height="30.6" fill="url(#pbs)" stroke="#0a0a0a" stroke-width="1.15"/>
<line x1="407.07" y1="292" x2="407.07" y2="298.75" stroke="#0a0a0a" stroke-width="1.25"/>
<line x1="404.47" y1="292.1" x2="409.68" y2="292.1" stroke="#0a0a0a" stroke-width="1.5"/>
<rect x="422.75" y="305.05" width="7.45" height="24.85" fill="url(#pbs)" stroke="#0a0a0a" stroke-width="1.15"/>
<line x1="426.68" y1="294" x2="426.68" y2="304.5" stroke="#0a0a0a" stroke-width="1.25"/>
<line x1="424.07" y1="294.1" x2="429.28" y2="294.1" stroke="#0a0a0a" stroke-width="1.5"/>
<rect x="358.1" y="236.1" width="78.5" height="93.8" fill="none" stroke="#1a1a1a" stroke-width="1.4"/>
<text x="362.8" y="348.4" font-size="9.8" font-weight="bold" stroke="#111" stroke-width="0.3" text-anchor="end" transform="rotate(-45 362.8 348.4)" fill="#111">Control</text>
<text x="383.3" y="348.4" font-size="9.8" font-weight="bold" stroke="#111" stroke-width="0.3" text-anchor="end" transform="rotate(-45 383.3 348.4)" fill="#111">CD40 86</text>
<text x="402.8" y="348.4" font-size="9.8" font-weight="bold" stroke="#111" stroke-width="0.3" text-anchor="end" transform="rotate(-45 402.8 348.4)" fill="#111">CD80 86</text>
<text x="422.3" y="348.4" font-size="9.8" font-weight="bold" stroke="#111" stroke-width="0.3" text-anchor="end" transform="rotate(-45 422.3 348.4)" fill="#111">CD40 80 86</text>
<text x="400.2" y="213.7" font-size="8.7" font-weight="bold" stroke="#111" stroke-width="0.3" text-anchor="middle" fill="#111">Third Party Partially</text>
<text x="399.8" y="225.1" font-size="8.7" font-weight="bold" stroke="#111" stroke-width="0.3" text-anchor="middle" fill="#111">Matched Stimulator PBMC</text>
<text x="14.2" y="554.8" font-size="11.1" font-weight="bold" stroke="#111" stroke-width="0.3" text-anchor="middle" transform="rotate(-90 14.2 554.8)" fill="#111"><tspan font-size="7.77" dy="-4.22">3</tspan><tspan dy="4.22">H-Incorporation</tspan></text>
<line x1="51.3" y1="458.4" x2="53.7" y2="458.4" stroke="#888" stroke-width="0.8"/>
<text x="47.3" y="460.96" font-size="8.5" stroke="#111" stroke-width="0.38" text-anchor="end" fill="#111">50000</text>
<line x1="51.3" y1="473.65" x2="53.7" y2="473.65" stroke="#888" stroke-width="0.8"/>
<text x="47.3" y="476.21" font-size="8.5" stroke="#111" stroke-width="0.38" text-anchor="end" fill="#111">45000</text>
<line x1="51.3" y1="488.9" x2="53.7" y2="488.9" stroke="#888" stroke-width="0.8"/>
<text x="47.3" y="491.46" font-size="8.5" stroke="#111" stroke-width="0.38" text-anchor="end" fill="#111">40000</text>
<line x1="51.3" y1="504.15" x2="53.7" y2="504.15" stroke="#888" stroke-width="0.8"/>
<text x="47.3" y="506.71" font-size="8.5" stroke="#111" stroke-width="0.38" text-anchor="end" fill="#111">35000</text>
<line x1="51.3" y1="519.4" x2="53.7" y2="519.4" stroke="#888" stroke-width="0.8"/>
<text x="47.3" y="521.96" font-size="8.5" stroke="#111" stroke-width="0.38" text-anchor="end" fill="#111">30000</text>
<line x1="51.3" y1="534.65" x2="53.7" y2="534.65" stroke="#888" stroke-width="0.8"/>
<text x="47.3" y="537.21" font-size="8.5" stroke="#111" stroke-width="0.38" text-anchor="end" fill="#111">25000</text>
<line x1="51.3" y1="549.9" x2="53.7" y2="549.9" stroke="#888" stroke-width="0.8"/>
<text x="47.3" y="552.46" font-size="8.5" stroke="#111" stroke-width="0.38" text-anchor="end" fill="#111">20000</text>
<line x1="51.3" y1="565.15" x2="53.7" y2="565.15" stroke="#888" stroke-width="0.8"/>
<text x="47.3" y="567.71" font-size="8.5" stroke="#111" stroke-width="0.38" text-anchor="end" fill="#111">15000</text>
<line x1="51.3" y1="580.4" x2="53.7" y2="580.4" stroke="#888" stroke-width="0.8"/>
<text x="47.3" y="582.96" font-size="8.5" stroke="#111" stroke-width="0.38" text-anchor="end" fill="#111">10000</text>
<line x1="51.3" y1="595.65" x2="53.7" y2="595.65" stroke="#888" stroke-width="0.8"/>
<text x="47.3" y="598.21" font-size="8.5" stroke="#111" stroke-width="0.38" text-anchor="end" fill="#111">5000</text>
<line x1="51.3" y1="610.9" x2="53.7" y2="610.9" stroke="#888" stroke-width="0.8"/>
<text x="47.3" y="613.46" font-size="8.5" stroke="#111" stroke-width="0.38" text-anchor="end" fill="#111">0</text>
<line x1="53.7" y1="611.3" x2="53.7" y2="614.3" stroke="#555" stroke-width="0.8"/>
<line x1="80.05" y1="611.3" x2="80.05" y2="614.3" stroke="#555" stroke-width="0.8"/>
<line x1="106.4" y1="611.3" x2="106.4" y2="614.3" stroke="#555" stroke-width="0.8"/>
<rect x="61.65" y="489.45" width="10.9" height="121.85" fill="#0a0a0a" stroke="#0a0a0a" stroke-width="1.15"/>
<line x1="67.2" y1="471.4" x2="67.2" y2="489" stroke="#0a0a0a" stroke-width="1.25"/>
<line x1="64.6" y1="471.5" x2="69.8" y2="471.5" stroke="#0a0a0a" stroke-width="1.5"/>
<rect x="88.05" y="527.3" width="10.2" height="84" fill="url(#pfs)" stroke="#0a0a0a" stroke-width="1.15"/>
<line x1="93.3" y1="508.75" x2="93.3" y2="526.75" stroke="#0a0a0a" stroke-width="1.25"/>
<line x1="90.7" y1="508.85" x2="95.9" y2="508.85" stroke="#0a0a0a" stroke-width="1.5"/>
<rect x="53.7" y="459.4" width="52.7" height="151.9" fill="none" stroke="#1a1a1a" stroke-width="1.1"/>
<text x="66.9" y="619.6" font-size="9.85" font-weight="bold" stroke="#111" stroke-width="0.3" text-anchor="end" transform="rotate(-90 66.9 619.6)" fill="#111">MLC + Control cells</text>
<text x="93.7" y="619.8" font-size="9.85" font-weight="bold" stroke="#111" stroke-width="0.3" text-anchor="end" transform="rotate(-90 93.7 619.8)" fill="#111">MLC + Anergic cells</text>
<line x1="139.5" y1="494.8" x2="142.7" y2="494.8" stroke="#555" stroke-width="0.8"/>
<text x="135.5" y="497.37" font-size="8.8" stroke="#111" stroke-width="0.38" text-anchor="end" fill="#111">5000</text>
<line x1="139.5" y1="517.72" x2="142.7" y2="517.72" stroke="#555" stroke-width="0.8"/>
<text x="135.5" y="520.29" font-size="8.8" stroke="#111" stroke-width="0.38" text-anchor="end" fill="#111">4000</text>
<line x1="139.5" y1="540.64" x2="142.7" y2="540.64" stroke="#555" stroke-width="0.8"/>
<text x="135.5" y="543.21" font-size="8.8" stroke="#111" stroke-width="0.38" text-anchor="end" fill="#111">3000</text>
<line x1="139.5" y1="563.56" x2="142.7" y2="563.56" stroke="#555" stroke-width="0.8"/>
<text x="135.5" y="566.13" font-size="8.8" stroke="#111" stroke-width="0.38" text-anchor="end" fill="#111">2000</text>
<line x1="139.5" y1="586.48" x2="142.7" y2="586.48" stroke="#555" stroke-width="0.8"/>
<text x="135.5" y="589.05" font-size="8.8" stroke="#111" stroke-width="0.38" text-anchor="end" fill="#111">1000</text>
<line x1="139.5" y1="609.4" x2="142.7" y2="609.4" stroke="#555" stroke-width="0.8"/>
<text x="135.5" y="611.97" font-size="8.8" stroke="#111" stroke-width="0.38" text-anchor="end" fill="#111">0</text>
<line x1="142.1" y1="609.4" x2="142.1" y2="612.4" stroke="#555" stroke-width="0.8"/>
<line x1="173.2" y1="609.4" x2="173.2" y2="612.4" stroke="#555" stroke-width="0.8"/>
<line x1="204.3" y1="609.4" x2="204.3" y2="612.4" stroke="#555" stroke-width="0.8"/>
<line x1="235.4" y1="609.4" x2="235.4" y2="612.4" stroke="#555" stroke-width="0.8"/>
<rect x="146.7" y="588.85" width="7.15" height="20.55" fill="#0a0a0a" stroke="#0a0a0a" stroke-width="1.15"/>
<line x1="150.2" y1="583.4" x2="150.2" y2="588.3" stroke="#0a0a0a" stroke-width="1.25"/>
<line x1="147.8" y1="583.5" x2="152.6" y2="583.5" stroke="#0a0a0a" stroke-width="1.5"/>
<rect x="153.85" y="552.25" width="7.05" height="57.15" fill="#fff" stroke="#0a0a0a" stroke-width="1.15"/>
<line x1="157.57" y1="547.4" x2="157.57" y2="551.7" stroke="#0a0a0a" stroke-width="1.25"/>
<line x1="155.17" y1="547.5" x2="159.97" y2="547.5" stroke="#0a0a0a" stroke-width="1.5"/>
<rect x="160.9" y="523.05" width="6.85" height="86.35" fill="url(#pfsd)" stroke="#0a0a0a" stroke-width="1.15"/>
<line x1="164.8" y1="507" x2="164.8" y2="522.5" stroke="#0a0a0a" stroke-width="1.25"/>
<line x1="162.4" y1="507.1" x2="167.2" y2="507.1" stroke="#0a0a0a" stroke-width="1.5"/>
<rect x="178.05" y="586.05" width="7.15" height="23.35" fill="#0a0a0a" stroke="#0a0a0a" stroke-width="1.15"/>
<line x1="181.55" y1="573.8" x2="181.55" y2="585.5" stroke="#0a0a0a" stroke-width="1.25"/>
<line x1="179.15" y1="573.9" x2="183.95" y2="573.9" stroke="#0a0a0a" stroke-width="1.5"/>
<rect x="185.2" y="548.25" width="7.1" height="61.15" fill="#fff" stroke="#0a0a0a" stroke-width="1.15"/>
<line x1="188.95" y1="529.2" x2="188.95" y2="547.7" stroke="#0a0a0a" stroke-width="1.25"/>
<line x1="186.55" y1="529.3" x2="191.35" y2="529.3" stroke="#0a0a0a" stroke-width="1.5"/>
<rect x="192.3" y="508.25" width="7.15" height="101.15" fill="url(#pfsd)" stroke="#0a0a0a" stroke-width="1.15"/>
<line x1="196.35" y1="497.5" x2="196.35" y2="507.7" stroke="#0a0a0a" stroke-width="1.25"/>
<line x1="193.95" y1="497.6" x2="198.75" y2="497.6" stroke="#0a0a0a" stroke-width="1.5"/>
<rect x="208.85" y="581.45" width="7.15" height="27.95" fill="#0a0a0a" stroke="#0a0a0a" stroke-width="1.15"/>
<line x1="212.35" y1="575.4" x2="212.35" y2="580.9" stroke="#0a0a0a" stroke-width="1.25"/>
<line x1="209.95" y1="575.5" x2="214.75" y2="575.5" stroke="#0a0a0a" stroke-width="1.5"/>
<rect x="216" y="553.75" width="7" height="55.65" fill="#fff" stroke="#0a0a0a" stroke-width="1.15"/>
<line x1="219.7" y1="546.8" x2="219.7" y2="553.2" stroke="#0a0a0a" stroke-width="1.25"/>
<line x1="217.3" y1="546.9" x2="222.1" y2="546.9" stroke="#0a0a0a" stroke-width="1.5"/>
<rect x="223" y="519.05" width="7.25" height="90.35" fill="url(#pfsd)" stroke="#0a0a0a" stroke-width="1.15"/>
<line x1="227.1" y1="506.2" x2="227.1" y2="518.5" stroke="#0a0a0a" stroke-width="1.25"/>
<line x1="224.7" y1="506.3" x2="229.5" y2="506.3" stroke="#0a0a0a" stroke-width="1.5"/>
<rect x="142.1" y="494.8" width="93.3" height="114.6" fill="none" stroke="#1a1a1a" stroke-width="1.1"/>
<text x="157.5" y="618" font-size="9.7" font-weight="bold" stroke="#111" stroke-width="0.3" text-anchor="end" transform="rotate(-90 157.5 618)" fill="#111">PBMC</text>
<text x="189.3" y="617.8" font-size="9.85" font-weight="bold" stroke="#111" stroke-width="0.3" text-anchor="end" transform="rotate(-90 189.3 617.8)" fill="#111">PBMC + Control cells</text>
<text x="219.5" y="617.8" font-size="9.85" font-weight="bold" stroke="#111" stroke-width="0.3" text-anchor="end" transform="rotate(-90 219.5 617.8)" fill="#111">PBMC + Anergic cells</text>
<rect x="166.6" y="455.7" width="80.7" height="36.7" fill="#fff" stroke="#666" stroke-width="0.9"/>
<rect x="170.5" y="459" width="5.8" height="5.8" fill="#0a0a0a" stroke="#0a0a0a" stroke-width="1"/>
<text x="178.4" y="465.3" font-size="10" stroke="#111" stroke-width="0.38" text-anchor="start" fill="#111">No antigen</text>
<rect x="170.5" y="470.8" width="5.8" height="5.8" fill="#fff" stroke="#0a0a0a" stroke-width="1"/>
<text x="178.4" y="477.1" font-size="10" stroke="#111" stroke-width="0.38" text-anchor="start" fill="#111">Tetanus toxoid</text>
<rect x="170.5" y="482.7" width="5.8" height="5.8" fill="#0a0a0a" stroke="#0a0a0a" stroke-width="1"/>
<path d="M171 485.95L173.75 483.2M173.17 488.1L175.9 485.37" stroke="#fff" stroke-width="1.35" stroke-linecap="butt"/>
<text x="178.4" y="489" font-size="10" stroke="#111" stroke-width="0.38" text-anchor="start" fill="#111">C.albicans</text>
<text x="298" y="547" font-size="10.9" font-weight="bold" stroke="#111" stroke-width="0.3" text-anchor="middle" transform="rotate(-90 298 547)" fill="#111"><tspan font-size="7.63" dy="-4.14">3</tspan><tspan dy="4.14">H-Incorporation</tspan></text>
<line x1="324.8" y1="493.9" x2="328" y2="493.9" stroke="#555" stroke-width="0.8"/>
<text x="321.2" y="496.8" font-size="8.6" stroke="#111" stroke-width="0.38" text-anchor="end" fill="#111">10000</text>
<line x1="324.8" y1="516.6" x2="328" y2="516.6" stroke="#555" stroke-width="0.8"/>
<text x="321.2" y="519.5" font-size="8.6" stroke="#111" stroke-width="0.38" text-anchor="end" fill="#111">8000</text>
<line x1="324.8" y1="539.3" x2="328" y2="539.3" stroke="#555" stroke-width="0.8"/>
<text x="321.2" y="542.2" font-size="8.6" stroke="#111" stroke-width="0.38" text-anchor="end" fill="#111">6000</text>
<line x1="324.8" y1="562" x2="328" y2="562" stroke="#555" stroke-width="0.8"/>
<text x="321.2" y="564.9" font-size="8.6" stroke="#111" stroke-width="0.38" text-anchor="end" fill="#111">4000</text>
<line x1="324.8" y1="584.7" x2="328" y2="584.7" stroke="#555" stroke-width="0.8"/>
<text x="321.2" y="587.6" font-size="8.6" stroke="#111" stroke-width="0.38" text-anchor="end" fill="#111">2000</text>
<line x1="324.8" y1="607.4" x2="328" y2="607.4" stroke="#555" stroke-width="0.8"/>
<text x="321.2" y="610.3" font-size="8.6" stroke="#111" stroke-width="0.38" text-anchor="end" fill="#111">0</text>
<line x1="327.4" y1="607.4" x2="327.4" y2="610.4" stroke="#555" stroke-width="0.8"/>
<line x1="351.54" y1="607.4" x2="351.54" y2="610.4" stroke="#555" stroke-width="0.8"/>
<line x1="375.68" y1="607.4" x2="375.68" y2="610.4" stroke="#555" stroke-width="0.8"/>
<line x1="399.82" y1="607.4" x2="399.82" y2="610.4" stroke="#555" stroke-width="0.8"/>
<line x1="423.96" y1="607.4" x2="423.96" y2="610.4" stroke="#555" stroke-width="0.8"/>
<line x1="448.1" y1="607.4" x2="448.1" y2="610.4" stroke="#555" stroke-width="0.8"/>
<rect x="332.85" y="527.15" width="7.35" height="80.25" fill="#0a0a0a" stroke="#0a0a0a" stroke-width="1.15"/>
<line x1="336.45" y1="511.3" x2="336.45" y2="526.6" stroke="#0a0a0a" stroke-width="1.25"/>
<line x1="333.95" y1="511.4" x2="338.95" y2="511.4" stroke="#0a0a0a" stroke-width="1.5"/>
<rect x="340.2" y="556.25" width="6.15" height="51.15" fill="url(#pfsd)" stroke="#0a0a0a" stroke-width="1.15"/>
<line x1="343.75" y1="548.7" x2="343.75" y2="555.7" stroke="#0a0a0a" stroke-width="1.25"/>
<line x1="341.25" y1="548.8" x2="346.25" y2="548.8" stroke="#0a0a0a" stroke-width="1.5"/>
<rect x="356.85" y="532.35" width="7.55" height="75.05" fill="#0a0a0a" stroke="#0a0a0a" stroke-width="1.15"/>
<line x1="360.55" y1="516.5" x2="360.55" y2="531.8" stroke="#0a0a0a" stroke-width="1.25"/>
<line x1="358.05" y1="516.6" x2="363.05" y2="516.6" stroke="#0a0a0a" stroke-width="1.5"/>
<rect x="364.4" y="556.45" width="5.95" height="50.95" fill="url(#pfsd)" stroke="#0a0a0a" stroke-width="1.15"/>
<line x1="367.85" y1="538.7" x2="367.85" y2="555.9" stroke="#0a0a0a" stroke-width="1.25"/>
<line x1="365.35" y1="538.8" x2="370.35" y2="538.8" stroke="#0a0a0a" stroke-width="1.5"/>
<rect x="380.85" y="544.65" width="7.15" height="62.75" fill="#0a0a0a" stroke="#0a0a0a" stroke-width="1.15"/>
<line x1="384.35" y1="531.2" x2="384.35" y2="544.1" stroke="#0a0a0a" stroke-width="1.25"/>
<line x1="381.85" y1="531.3" x2="386.85" y2="531.3" stroke="#0a0a0a" stroke-width="1.5"/>
<rect x="388" y="535.45" width="6.45" height="71.95" fill="url(#pfsd)" stroke="#0a0a0a" stroke-width="1.15"/>
<line x1="391.7" y1="505.2" x2="391.7" y2="534.9" stroke="#0a0a0a" stroke-width="1.25"/>
<line x1="389.2" y1="505.3" x2="394.2" y2="505.3" stroke="#0a0a0a" stroke-width="1.5"/>
<rect x="404.55" y="545.75" width="7.05" height="61.65" fill="#0a0a0a" stroke="#0a0a0a" stroke-width="1.15"/>
<line x1="408" y1="544" x2="408" y2="545.2" stroke="#0a0a0a" stroke-width="1.25"/>
<line x1="405.5" y1="544.1" x2="410.5" y2="544.1" stroke="#0a0a0a" stroke-width="1.5"/>
<rect x="411.6" y="536.35" width="6.55" height="71.05" fill="url(#pfsd)" stroke="#0a0a0a" stroke-width="1.15"/>
<rect x="428.95" y="527.85" width="6.65" height="79.55" fill="#0a0a0a" stroke="#0a0a0a" stroke-width="1.15"/>
<line x1="432.2" y1="515" x2="432.2" y2="527.3" stroke="#0a0a0a" stroke-width="1.25"/>
<line x1="429.7" y1="515.1" x2="434.7" y2="515.1" stroke="#0a0a0a" stroke-width="1.5"/>
<rect x="435.6" y="551.05" width="6.35" height="56.35" fill="url(#pfsd)" stroke="#0a0a0a" stroke-width="1.15"/>
<line x1="439.25" y1="535.3" x2="439.25" y2="550.5" stroke="#0a0a0a" stroke-width="1.25"/>
<line x1="436.75" y1="535.4" x2="441.75" y2="535.4" stroke="#0a0a0a" stroke-width="1.5"/>
<rect x="327.4" y="493.9" width="120.7" height="113.5" fill="none" stroke="#1a1a1a" stroke-width="1.1"/>
<text x="339.87" y="615.8" font-size="9.9" font-weight="bold" stroke="#111" stroke-width="0.3" text-anchor="end" transform="rotate(-90 339.87 615.8)" fill="#111">Control</text>
<text x="364.01" y="615.8" font-size="9.9" font-weight="bold" stroke="#111" stroke-width="0.3" text-anchor="end" transform="rotate(-90 364.01 615.8)" fill="#111">+Anti TGF</text>
<text x="388.15" y="615.8" font-size="9.9" font-weight="bold" stroke="#111" stroke-width="0.3" text-anchor="end" transform="rotate(-90 388.15 615.8)" fill="#111">+Anti IL10</text>
<text x="412.29" y="615.8" font-size="9.9" font-weight="bold" stroke="#111" stroke-width="0.3" text-anchor="end" transform="rotate(-90 412.29 615.8)" fill="#111">+Anti TGF + IL10</text>
<text x="436.43" y="615.8" font-size="9.9" font-weight="bold" stroke="#111" stroke-width="0.3" text-anchor="end" transform="rotate(-90 436.43 615.8)" fill="#111">Isotype</text>
<rect x="377" y="455" width="74.7" height="28.3" fill="#fff" stroke="#555" stroke-width="0.9"/>
<rect x="383" y="459.05" width="5.7" height="5.7" fill="#0a0a0a" stroke="#0a0a0a" stroke-width="1"/>
<text x="391.2" y="464.8" font-size="9.8" stroke="#111" stroke-width="0.38" text-anchor="start" fill="#111">Control cells</text>
<rect x="383" y="473.05" width="5.7" height="5.7" fill="#0a0a0a" stroke="#0a0a0a" stroke-width="1"/>
<path d="M383.5 476.24L386.19 473.55M385.62 478.35L388.3 475.67" stroke="#fff" stroke-width="1.35" stroke-linecap="butt"/>
<text x="391.2" y="478.8" font-size="9.8" stroke="#111" stroke-width="0.38" text-anchor="start" fill="#111">Anergic cells</text>
</g>
</svg></body></html>
